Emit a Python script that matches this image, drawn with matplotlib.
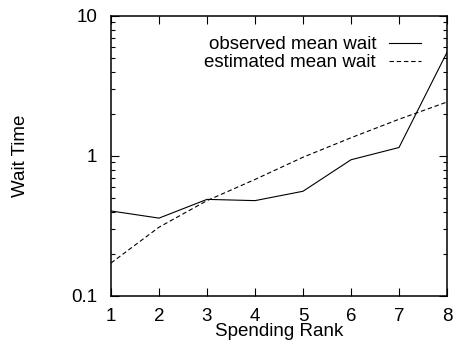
import matplotlib
matplotlib.use("Agg")
import matplotlib.pyplot as plt
from matplotlib.ticker import FixedLocator, LogLocator, NullFormatter

plt.rcParams["font.family"] = ["Liberation Sans", "DejaVu Sans"]

rank = [1, 2, 3, 4, 5, 6, 7, 8]
observed_wait = [0.405, 0.36, 0.49, 0.48, 0.56, 0.94, 1.15, 5.5]
estimated_wait = [0.172, 0.31, 0.48, 0.68, 0.98, 1.35, 1.83, 2.43]
y_ticks = [0.1, 1, 10]
y_tick_labels = ["0.1", "1", "10"]

fig = plt.figure(figsize=(4.54, 3.41), dpi=100)
ax = fig.add_axes([111 / 454, 1 - 296 / 341, 336 / 454, 280 / 341])

ax.plot(rank, observed_wait, color="black", linewidth=0.8, label="observed mean wait")
ax.plot(rank, estimated_wait, color="black", linewidth=0.8, linestyle=(0, (4, 2.5)),
        label="estimated mean wait")

ax.set_yscale("log")
ax.set_xlim(1, 8)
ax.set_ylim(0.1, 10)
ax.yaxis.set_major_locator(FixedLocator(y_ticks))
ax.set_yticklabels(y_tick_labels)
ax.yaxis.set_minor_locator(LogLocator(base=10, subs=range(2, 10)))
ax.yaxis.set_minor_formatter(NullFormatter())
ax.set_xticks(rank)

ax.tick_params(which="both", direction="in", top=True, right=True, labelsize=13.5, width=0.8)
ax.tick_params(which="major", length=6)
ax.tick_params(axis="x", which="major", pad=8.5)
ax.tick_params(axis="y", which="major", pad=10)
ax.tick_params(which="minor", length=3)
for spine in ax.spines.values():
    spine.set_linewidth(1.1)

# reference clips the bottom of this label; keep it just inside the canvas
ax.set_xlabel("Spending Rank", fontsize=13.5, labelpad=-1)
ax.set_ylabel("Wait Time", fontsize=13.5, labelpad=30)

ax.legend(loc="upper right", frameon=False, markerfirst=False, fontsize=13.5,
          handlelength=1.7, handletextpad=0.7, labelspacing=0.05,
          bbox_to_anchor=(0.945, 0.955), borderaxespad=0)

fig.savefig("out.png", dpi=100)
